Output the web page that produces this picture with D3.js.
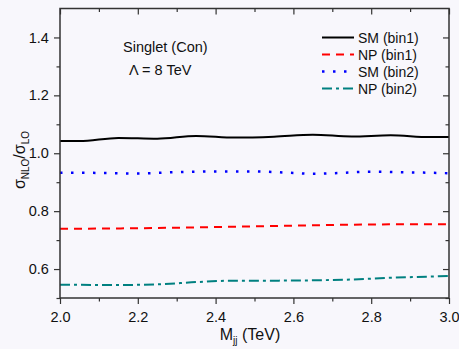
<!DOCTYPE html>
<html>
<head>
<meta charset="utf-8">
<script src="https://cdn.jsdelivr.net/npm/d3@7"></script>
<style>
  body { margin: 0; background: #f8f7fc; }
  svg { display: block; font-family: "Liberation Sans", Arial, sans-serif; }
</style>
</head>
<body>
<script>
// Data
var smBin1X = [2.0, 2.05, 2.15, 2.25, 2.35, 2.45, 2.55, 2.65, 2.75, 2.85, 2.95, 3.0];
var smBin1Y = [1.042, 1.042, 1.053, 1.050, 1.060, 1.054, 1.057, 1.064, 1.058, 1.062, 1.056, 1.056];

var npBin1X = [2.0, 2.2, 2.4, 2.6, 2.8, 3.0];
var npBin1Y = [0.739, 0.741, 0.745, 0.750, 0.754, 0.755];

var smBin2X = [2.0, 2.1, 2.2, 2.3, 2.4, 2.5, 2.6, 2.65, 2.7, 2.8, 2.9, 3.0];
var smBin2Y = [0.933, 0.932, 0.930, 0.935, 0.937, 0.937, 0.932, 0.929, 0.931, 0.936, 0.934, 0.931];

var npBin2X = [2.0, 2.15, 2.25, 2.35, 2.45, 2.55, 2.65, 2.75, 2.85, 2.95, 3.0];
var npBin2Y = [0.546, 0.545, 0.547, 0.555, 0.560, 0.560, 0.561, 0.564, 0.570, 0.574, 0.576];

var seriesNames = ['SM (bin1)', 'NP (bin1)', 'SM (bin2)', 'NP (bin2)'];
var xTicks = [2.0, 2.2, 2.4, 2.6, 2.8, 3.0];
var xMinor = [2.1, 2.3, 2.5, 2.7, 2.9];
var yTicks = [0.6, 0.8, 1.0, 1.2, 1.4];
var yMinor = [0.5, 0.7, 0.9, 1.1, 1.3];

// Layout (note: "top" clashes with window.top, so use plot* names)
var w = 459,
    h = 349,
    plotL = 60, plotR = 449, plotT = 8.5, plotB = 298;

var series = [
  { name: seriesNames[0], xs: smBin1X, ys: smBin1Y, color: '#000000', dash: null, width: 2 },
  { name: seriesNames[1], xs: npBin1X, ys: npBin1Y, color: '#ff0000', dash: '8,6', width: 2 },
  { name: seriesNames[2], xs: smBin2X, ys: smBin2Y, color: '#0000ff', dash: '2.5,8.5', width: 2.5 },
  { name: seriesNames[3], xs: npBin2X, ys: npBin2Y, color: '#008080', dash: '10,4,3,4', width: 2 }
];

var xScale = d3.scaleLinear().domain([2.0, 3.0]).range([plotL, plotR]);
var yScale = d3.scaleLinear().domain([0.5, 1.5]).range([plotB, plotT]);

var svg = d3.select('body').append('svg')
            .attr('width', w)
            .attr('height', h);

svg.append('rect').attr('width', w).attr('height', h).attr('fill', '#f8f7fc');

// lines
var line = d3.line()
             .x(function(d) { return xScale(d[0]); })
             .y(function(d) { return yScale(d[1]); })
             .curve(d3.curveMonotoneX);

series.forEach(function(s) {
  var pts = s.xs.map(function(x, i) { return [x, s.ys[i]]; });
  svg.append('path')
     .datum(pts)
     .attr('d', line)
     .attr('fill', 'none')
     .attr('stroke', s.color)
     .attr('stroke-width', s.width)
     .attr('stroke-dasharray', s.dash);
});

// axes
function styleAxis(g) {
  g.select('.domain').remove();
  g.selectAll('line').attr('stroke', '#333').attr('stroke-width', 1.2);
  g.selectAll('text').attr('font-size', 14.5).attr('fill', '#111')
   .attr('font-family', '"Liberation Sans", Arial, sans-serif');
}

svg.append('g')
   .attr('class', 'x axis')
   .attr('transform', 'translate(0,' + plotB + ')')
   .call(d3.axisBottom(xScale).tickValues(xTicks).tickFormat(d3.format('.1f')).tickSize(6))
   .call(styleAxis)
   .selectAll('text').attr('dy', '1.05em');

svg.append('g')
   .attr('transform', 'translate(0,' + plotB + ')')
   .call(d3.axisBottom(xScale).tickValues(xMinor).tickFormat('').tickSize(3.5))
   .call(styleAxis);

svg.append('g')
   .attr('class', 'y axis')
   .attr('transform', 'translate(' + plotL + ',0)')
   .call(d3.axisLeft(yScale).tickValues(yTicks).tickFormat(d3.format('.1f')).tickSize(6))
   .call(styleAxis)
   .selectAll('text').attr('dx', '-0.15em');

svg.append('g')
   .attr('transform', 'translate(' + plotL + ',0)')
   .call(d3.axisLeft(yScale).tickValues(yMinor).tickFormat('').tickSize(3.5))
   .call(styleAxis);

// top and right mirror ticks point inward
svg.append('g')
   .attr('transform', 'translate(0,' + plotT + ')')
   .call(d3.axisBottom(xScale).tickValues(xTicks).tickFormat('').tickSize(6))
   .call(styleAxis);
svg.append('g')
   .attr('transform', 'translate(0,' + plotT + ')')
   .call(d3.axisBottom(xScale).tickValues(xMinor).tickFormat('').tickSize(3.5))
   .call(styleAxis);
svg.append('g')
   .attr('transform', 'translate(' + plotR + ',0)')
   .call(d3.axisLeft(yScale).tickValues(yTicks).tickFormat('').tickSize(6))
   .call(styleAxis);
svg.append('g')
   .attr('transform', 'translate(' + plotR + ',0)')
   .call(d3.axisLeft(yScale).tickValues(yMinor).tickFormat('').tickSize(3.5))
   .call(styleAxis);

// frame
svg.append('rect')
   .attr('x', plotL).attr('y', plotT)
   .attr('width', plotR - plotL).attr('height', plotB - plotT)
   .attr('fill', 'none')
   .attr('stroke', '#333')
   .attr('stroke-width', 1.5);

// axis titles
var xt = svg.append('text')
   .attr('x', 250).attr('y', 340)
   .attr('text-anchor', 'middle')
   .attr('font-size', 16)
   .attr('fill', '#111');
xt.append('tspan').text('M');
xt.append('tspan').attr('font-size', 10).attr('dy', 4).text('jj');
xt.append('tspan').attr('dy', -4).text(' (TeV)');

var yt = svg.append('text')
   .attr('transform', 'translate(25,160) rotate(-90)')
   .attr('text-anchor', 'middle')
   .attr('font-size', 16)
   .attr('fill', '#111');
yt.append('tspan').text('σ');
yt.append('tspan').attr('font-size', 10).attr('dy', 4).text('NLO');
yt.append('tspan').attr('dy', -4).text('/σ');
yt.append('tspan').attr('font-size', 10).attr('dy', 4).text('LO');

// annotation
svg.append('text')
   .attr('x', 123).attr('y', 52)
   .attr('font-size', 14.5)
   .attr('fill', '#111')
   .text('Singlet (Con)');
svg.append('text')
   .attr('x', 129).attr('y', 75)
   .attr('font-size', 14.5)
   .attr('fill', '#111')
   .text('Λ = 8 TeV');

// legend
var legend = svg.selectAll('.legend')
   .data(series)
   .enter()
   .append('g')
   .attr('class', 'legend')
   .attr('transform', function(d, i) { return 'translate(322,' + (37.5 + i * 17) + ')'; });

legend.append('line')
   .attr('x1', 0).attr('x2', 32)
   .attr('y1', 0).attr('y2', 0)
   .attr('stroke', function(d) { return d.color; })
   .attr('stroke-width', function(d) { return d.width; })
   .attr('stroke-dasharray', function(d) { return d.dash; });

legend.append('text')
   .attr('x', 36).attr('y', 5)
   .attr('font-size', 14)
   .attr('fill', '#111')
   .text(function(d) { return d.name; });
</script>
</body>
</html>
